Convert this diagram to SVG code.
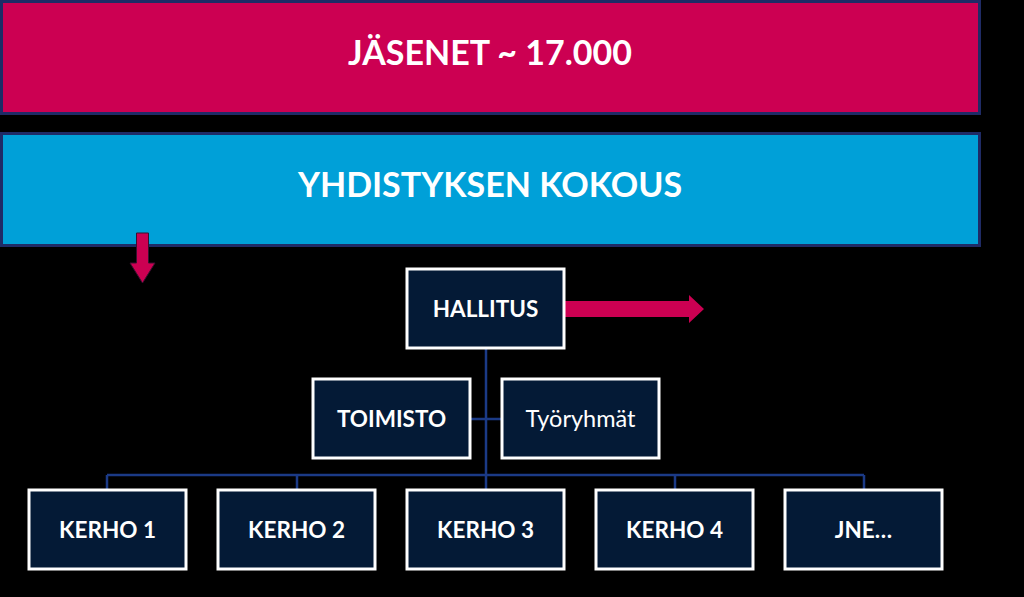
<svg xmlns="http://www.w3.org/2000/svg" width="1024" height="597" viewBox="0 0 1024 597">
<defs>
<style>
.band{stroke:#1F2B66;stroke-width:3}
.node{fill:#041A36;stroke:#FFFFFF;stroke-width:3}
.lbl{font-family:Lato,"Open Sans","Liberation Sans",sans-serif;font-size:22.5px;font-weight:bold;fill:#FFFFFF;text-anchor:middle}
.reg{font-weight:normal;font-size:23.5px}
.title{font-family:Lato,"Open Sans","Liberation Sans",sans-serif;font-size:34px;font-weight:bold;fill:#FFFFFF;text-anchor:middle}
.conn{stroke:#1B3A86;stroke-width:2.5;fill:none}
.arrow{fill:#CC0052}
</style>
</defs>
<rect x="0" y="0" width="1024" height="597" fill="#000000"/>
<g id="jasenet">
<rect class="band" x="1.5" y="1.5" width="978" height="112" fill="#CC0052"/>
<text class="title" x="490" y="65">JÄSENET ~ 17.000</text>
</g>
<g id="kokous">
<rect class="band" x="1.5" y="133.5" width="978" height="112" fill="#00A0D8"/>
<text class="title" x="490" y="197">YHDISTYKSEN KOKOUS</text>
</g>
<g id="connectors">
<path class="conn" d="M486 348 V475 M470 419 H501 M107 475 H864 M107 475 V489 M297 475 V489 M486 475 V489 M675 475 V489 M864 475 V489"/>
<polygon class="arrow" points="136.5,233 148.5,233 148.5,263 155,263 142.5,283 130,263 136.5,263" stroke="#3A1030" stroke-width="1"/>
<polygon class="arrow" points="549,301 689,301 689,295 704,309 689,323 689,317 549,317"/>
</g>
<g id="hallitus">
<rect class="node" x="407" y="269" width="157" height="79"/>
<text class="lbl" x="485.5" y="317">HALLITUS</text>
</g>
<g id="toimisto">
<rect class="node" x="313" y="379" width="157" height="79"/>
<text class="lbl" x="391.5" y="427">TOIMISTO</text>
</g>
<g id="tyoryhmat">
<rect class="node" x="502" y="379" width="157" height="79"/>
<text class="lbl reg" x="580.5" y="427">Työryhmät</text>
</g>
<g id="kerho1">
<rect class="node" x="29" y="490" width="157" height="79"/>
<text class="lbl" x="107.5" y="538">KERHO 1</text>
</g>
<g id="kerho2">
<rect class="node" x="218" y="490" width="157" height="79"/>
<text class="lbl" x="296.5" y="538">KERHO 2</text>
</g>
<g id="kerho3">
<rect class="node" x="407" y="490" width="157" height="79"/>
<text class="lbl" x="485.5" y="538">KERHO 3</text>
</g>
<g id="kerho4">
<rect class="node" x="596" y="490" width="157" height="79"/>
<text class="lbl" x="674.5" y="538">KERHO 4</text>
</g>
<g id="jne">
<rect class="node" x="785" y="490" width="157" height="79"/>
<text class="lbl" x="863.5" y="538">JNE…</text>
</g>
</svg>
